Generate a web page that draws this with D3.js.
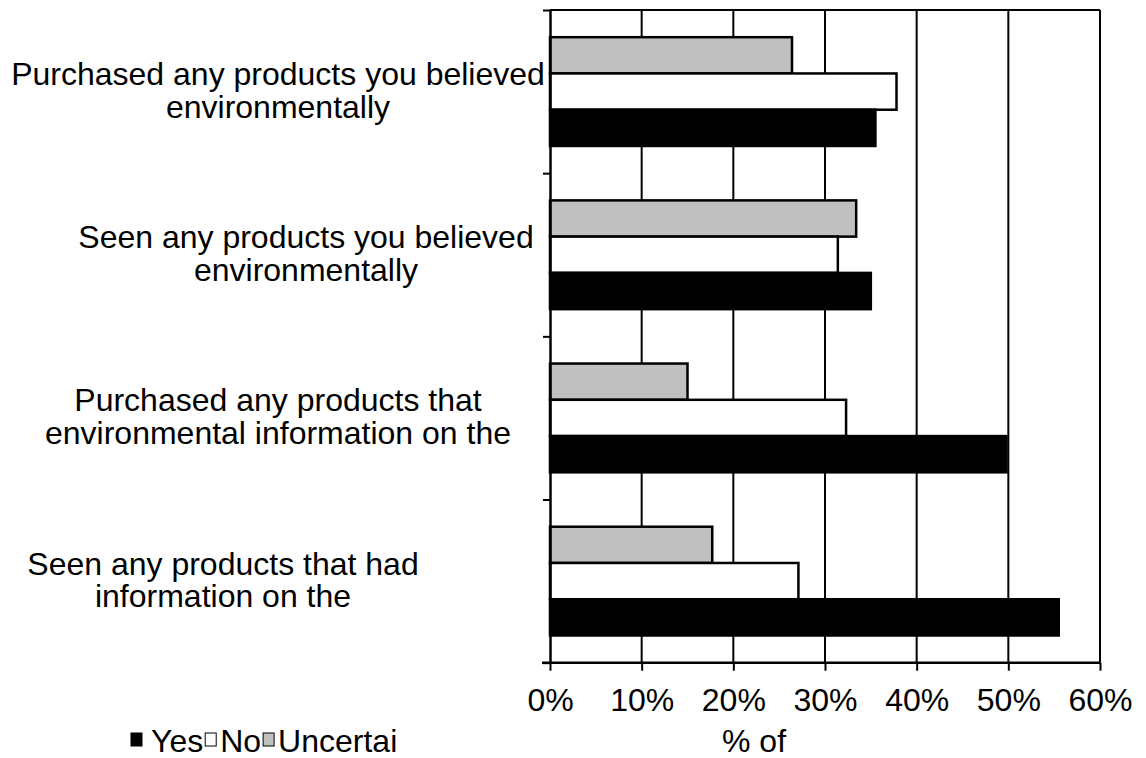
<!DOCTYPE html>
<html>
<head>
<meta charset="utf-8">
<script src="https://cdn.jsdelivr.net/npm/d3@7"></script>
<style>
  html, body { margin: 0; padding: 0; background: #ffffff; }
  svg { display: block; }
  text { font-family: "Liberation Sans", Arial, Helvetica, sans-serif; fill: #000; }
</style>
</head>
<body>
<svg id="chart" width="1146" height="758"></svg>
<script>
// ---------- DATA ----------
const categories = [
  "Purchased any products you believed environmentally",
  "Seen any products you believed environmentally",
  "Purchased any products that environmental information on the",
  "Seen any products that had information on the"
];
const categoryLines = [
  ["Purchased any products you believed", "environmentally"],
  ["Seen any products you believed", "environmentally"],
  ["Purchased any products that", "environmental information on the"],
  ["Seen any products that had", "information on the"]
];
const seriesNames = ["Yes", "No", "Uncertai"];
const yesValues = [0.355, 0.350, 0.498, 0.555];
const noValues = [0.378, 0.314, 0.323, 0.271];
const uncertainValues = [0.264, 0.334, 0.150, 0.177];
const xTickValues = [0, 0.1, 0.2, 0.3, 0.4, 0.5, 0.6];
const xTitle = "% of";

// ---------- LAYOUT / STYLE ----------
const plot = { left: 550, right: 1100, top: 10, bottom: 662.7 };
const labelCenters = [278, 306, 278, 223];
const fills = { "Yes": "#000000", "No": "#ffffff", "Uncertai": "#c0c0c0" };
const FONT = 32;

const svg = d3.select("#chart");

const x = d3.scaleLinear().domain([0, 0.6]).range([plot.left, plot.right]);
const y = d3.scaleBand().domain(categories).range([plot.top, plot.bottom]).padding(0);
const barOrder = ["Uncertai", "No", "Yes"];
const yInner = d3.scaleBand().domain(barOrder).range([0, y.bandwidth()])
  .paddingInner(0).paddingOuter(0.75);

const valuesBySeries = { "Yes": yesValues, "No": noValues, "Uncertai": uncertainValues };

// gridlines
svg.append("g")
  .selectAll("line")
  .data(xTickValues.slice(1))
  .join("line")
  .attr("x1", d => x(d)).attr("x2", d => x(d))
  .attr("y1", plot.top).attr("y2", plot.bottom)
  .attr("stroke", "#000").attr("stroke-width", 2);

// top border
svg.append("line")
  .attr("x1", plot.left).attr("x2", plot.right)
  .attr("y1", plot.top).attr("y2", plot.top)
  .attr("stroke", "#000").attr("stroke-width", 2);

// bars
const rows = [];
categories.forEach((c, i) => {
  barOrder.forEach(s => rows.push({ cat: c, series: s, value: valuesBySeries[s][i] }));
});
svg.append("g")
  .selectAll("rect")
  .data(rows)
  .join("rect")
  .attr("x", x(0))
  .attr("y", d => y(d.cat) + yInner(d.series))
  .attr("width", d => x(d.value) - x(0))
  .attr("height", yInner.bandwidth())
  .attr("fill", d => fills[d.series])
  .attr("stroke", "#000")
  .attr("stroke-width", 2.5);

// x axis
const xAxis = d3.axisBottom(x)
  .tickValues(xTickValues)
  .tickFormat(d3.format(".0%"))
  .tickSize(8).tickSizeOuter(0).tickPadding(18);
const gx = svg.append("g").attr("transform", `translate(0,${plot.bottom})`).call(xAxis);
gx.select(".domain").attr("stroke", "#000").attr("stroke-width", 2.5)
  .attr("d", `M${plot.left - 8},0H${plot.right}`);
gx.selectAll(".tick line").attr("stroke", "#000").attr("stroke-width", 2);
gx.selectAll(".tick text").attr("font-size", FONT).attr("font-family", "Liberation Sans, Arial, sans-serif").attr("fill", "#000");

// y axis: ticks at band boundaries
const yEdges = d3.scaleLinear().domain([0, categories.length]).range([plot.top, plot.bottom]);
const yAxis = d3.axisLeft(yEdges).tickValues(d3.range(categories.length + 1))
  .tickFormat("").tickSize(7).tickSizeOuter(0);
const gy = svg.append("g").attr("transform", `translate(${plot.left},0)`).call(yAxis);
gy.select(".domain").attr("stroke", "#000").attr("stroke-width", 2.5);
gy.selectAll(".tick line").attr("stroke", "#000").attr("stroke-width", 2);

// category labels
const lineH = 32.5;
categories.forEach((c, i) => {
  const cy = y(c) + y.bandwidth() / 2 - 1.5;
  const lines = categoryLines[i];
  const t = svg.append("text")
    .attr("text-anchor", "middle")
    .attr("font-size", FONT);
  lines.forEach((ln, j) => {
    t.append("tspan")
      .attr("x", labelCenters[i])
      .attr("y", cy + (j - (lines.length - 1) / 2) * lineH)
      .attr("dy", "0.35em")
      .text(ln);
  });
});

// x title
svg.append("text")
  .attr("x", 754).attr("y", 752)
  .attr("text-anchor", "middle")
  .attr("font-size", FONT)
  .text(xTitle);

// legend
const legend = svg.append("g");
const legGaps = [9, 4, 4];
let lx = 131;
const legY = 752;
seriesNames.forEach((s, i) => {
  legend.append("rect")
    .attr("x", lx).attr("y", legY - 19)
    .attr("width", 11).attr("height", 13)
    .attr("fill", fills[s])
    .attr("stroke", "#000").attr("stroke-width", 1);
  lx += 11 + legGaps[i];
  const t = legend.append("text")
    .attr("x", lx).attr("y", legY)
    .attr("font-size", FONT)
    .text(s);
  lx += t.node().getComputedTextLength() + 2;
});
</script>
</body>
</html>
